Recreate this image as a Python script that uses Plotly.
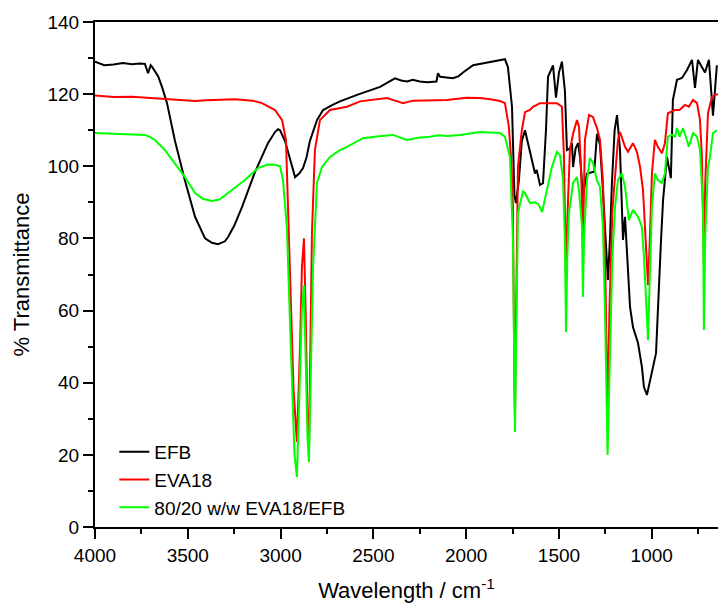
import plotly.graph_objects as go

# ---- data (wavenumber in cm-1, % transmittance) ----
efb_x = [4000, 3950, 3900, 3850, 3800, 3760, 3731, 3714, 3700, 3693, 3660, 3639, 3612, 3569, 3515, 3461, 3407, 3370, 3337, 3300, 3283, 3250, 3208, 3138, 3068, 3030, 3014, 3003, 2976, 2950, 2922, 2900, 2879, 2860, 2842, 2804, 2771, 2720, 2680, 2588, 2464, 2384, 2350, 2319, 2287, 2250, 2211, 2160, 2152, 2140, 2100, 2071, 2040, 2017, 1963, 1926, 1870, 1818, 1791, 1775, 1753, 1740, 1732, 1716, 1700, 1683, 1670, 1656, 1629, 1620, 1602, 1586, 1570, 1559, 1532, 1516, 1500, 1484, 1468, 1457, 1440, 1430, 1424, 1410, 1397, 1385, 1371, 1360, 1349, 1333, 1310, 1295, 1279, 1265, 1250, 1236, 1225, 1215, 1200, 1187, 1171, 1155, 1144, 1128, 1117, 1101, 1074, 1053, 1042, 1026, 1010, 993, 977, 967, 950, 939, 918, 897, 886, 864, 837, 810, 783, 767, 751, 730, 713, 692, 670, 649]
efb_y = [129.0, 128.0, 128.2, 128.6, 128.3, 128.5, 128.4, 125.8, 128.0, 127.6, 125.0, 122.0, 117.5, 107.0, 96.0, 86.0, 80.0, 78.8, 78.4, 79.2, 80.4, 83.5, 88.7, 98.4, 106.4, 109.5, 110.3, 110.0, 107.0, 102.0, 97.0, 98.0, 99.5, 102.5, 107.0, 112.8, 115.6, 117.0, 118.0, 119.8, 122.0, 124.4, 123.8, 123.5, 124.0, 123.5, 123.3, 123.5, 125.8, 124.8, 124.6, 124.4, 125.0, 126.0, 128.0, 128.4, 129.0, 129.5, 129.7, 127.5, 116.5, 92.0, 89.8, 96.0, 107.0, 110.0, 107.0, 103.6, 98.0, 99.0, 94.8, 95.3, 110.0, 124.8, 128.0, 119.0, 126.0, 129.0, 121.0, 104.5, 105.0, 106.4, 99.8, 105.0, 106.4, 102.0, 91.6, 95.0, 98.0, 98.2, 98.5, 109.0, 106.0, 95.0, 80.0, 68.5, 80.0, 95.0, 110.0, 114.2, 104.5, 79.6, 86.0, 72.0, 61.0, 55.4, 51.0, 44.4, 38.8, 36.6, 40.8, 44.4, 48.2, 61.0, 79.6, 90.6, 102.6, 96.7, 118.4, 124.0, 124.5, 126.7, 129.5, 121.7, 129.5, 127.5, 126.0, 129.5, 114.0, 128.0]

eva_x = [4000, 3900, 3800, 3700, 3600, 3500, 3461, 3400, 3300, 3246, 3150, 3100, 3030, 2992, 2971, 2960, 2945, 2930, 2912, 2895, 2885, 2874, 2865, 2855, 2847, 2838, 2831, 2815, 2788, 2734, 2642, 2572, 2500, 2427, 2370, 2340, 2287, 2200, 2103, 2000, 1926, 1870, 1818, 1791, 1770, 1755, 1748, 1740, 1737, 1733, 1727, 1721, 1700, 1683, 1656, 1640, 1602, 1550, 1511, 1484, 1473, 1466, 1462, 1455, 1441, 1424, 1403, 1392, 1380, 1371, 1365, 1360, 1338, 1317, 1295, 1279, 1263, 1250, 1238, 1228, 1212, 1198, 1182, 1171, 1144, 1128, 1101, 1080, 1063, 1047, 1031, 1020, 1010, 999, 983, 967, 945, 929, 913, 875, 850, 821, 800, 778, 756, 740, 730, 724, 719, 712, 697, 676, 659, 643]
eva_y = [119.6, 119.2, 119.3, 119.0, 118.6, 118.3, 118.1, 118.3, 118.5, 118.6, 118.2, 117.5, 115.6, 112.8, 107.3, 88.7, 60.0, 38.0, 23.6, 50.0, 72.0, 80.0, 60.0, 30.0, 22.0, 50.0, 81.5, 104.5, 112.8, 115.6, 116.5, 118.0, 118.5, 118.9, 118.0, 117.5, 118.2, 118.3, 118.4, 119.0, 118.9, 118.6, 118.1, 117.5, 111.0, 100.0, 88.7, 40.0, 30.0, 50.0, 85.0, 99.8, 110.0, 115.0, 115.6, 116.5, 117.5, 117.6, 117.5, 116.5, 102.6, 80.0, 69.0, 85.0, 104.5, 109.0, 112.8, 111.0, 98.0, 77.6, 90.0, 107.3, 114.2, 113.7, 110.6, 107.3, 96.0, 70.0, 31.6, 60.0, 88.0, 98.0, 107.3, 109.5, 105.4, 104.0, 106.4, 104.0, 99.8, 93.4, 79.6, 67.0, 80.0, 98.0, 107.3, 105.4, 103.6, 106.4, 114.7, 115.6, 115.6, 117.0, 116.5, 118.4, 117.5, 112.8, 103.0, 90.0, 73.0, 95.0, 114.7, 119.2, 119.8, 120.0]

blend_x = [4000, 3900, 3800, 3731, 3700, 3677, 3623, 3569, 3515, 3461, 3420, 3370, 3330, 3283, 3240, 3192, 3122, 3070, 3030, 3003, 2987, 2966, 2945, 2925, 2912, 2900, 2885, 2874, 2865, 2855, 2847, 2838, 2825, 2804, 2777, 2734, 2680, 2642, 2556, 2470, 2394, 2319, 2250, 2195, 2150, 2100, 2033, 1926, 1860, 1818, 1791, 1764, 1748, 1741, 1737, 1732, 1726, 1721, 1694, 1683, 1656, 1629, 1610, 1591, 1565, 1538, 1511, 1494, 1478, 1468, 1462, 1455, 1446, 1424, 1403, 1392, 1376, 1371, 1365, 1349, 1333, 1317, 1295, 1279, 1263, 1250, 1238, 1228, 1212, 1198, 1182, 1161, 1144, 1123, 1101, 1074, 1053, 1042, 1030, 1020, 1010, 999, 983, 967, 945, 929, 913, 892, 875, 864, 850, 832, 815, 800, 778, 756, 740, 730, 724, 719, 712, 697, 686, 670, 649]
blend_y = [109.2, 109.0, 108.8, 108.7, 108.0, 107.3, 104.5, 100.9, 97.0, 92.6, 91.0, 90.4, 90.8, 92.6, 94.3, 96.2, 99.5, 100.5, 100.4, 100.0, 96.2, 83.0, 50.0, 20.0, 13.9, 35.0, 60.0, 67.0, 50.0, 25.0, 18.0, 40.0, 72.0, 95.4, 99.8, 102.6, 104.5, 105.4, 107.8, 108.3, 108.7, 107.3, 108.0, 108.2, 108.6, 108.4, 108.7, 109.5, 109.3, 109.2, 108.2, 102.6, 79.6, 45.0, 26.3, 45.0, 75.0, 87.0, 93.0, 92.6, 89.8, 90.0, 89.5, 87.3, 93.4, 99.8, 104.0, 103.1, 96.2, 79.6, 54.0, 75.0, 87.0, 95.4, 97.0, 93.4, 83.2, 63.8, 80.0, 96.2, 102.3, 101.0, 96.0, 94.3, 83.2, 55.0, 20.0, 45.0, 75.0, 88.7, 96.2, 98.0, 94.3, 85.1, 87.9, 86.0, 83.2, 74.9, 60.0, 51.8, 70.0, 88.7, 98.0, 96.2, 95.4, 98.0, 108.2, 108.7, 108.2, 110.6, 108.2, 110.6, 108.0, 105.4, 109.2, 108.2, 104.5, 95.0, 88.7, 54.6, 80.0, 100.0, 102.6, 109.2, 110.0]

series_names = ["EFB", "EVA18", "80/20 w/w EVA18/EFB"]
series_colors = ["#000000", "#ff0000", "#00ff00"]

x_ticks = [4000, 3500, 3000, 2500, 2000, 1500, 1000]
y_ticks = [0, 20, 40, 60, 80, 100, 120, 140]

FONT = "Liberation Sans, Arial, sans-serif"

fig = go.Figure()
for xs, ys, name, col in zip([efb_x, eva_x, blend_x], [efb_y, eva_y, blend_y], series_names, series_colors):
    fig.add_trace(go.Scatter(x=xs, y=ys, mode="lines", name=name,
                             line=dict(color=col, width=2)))

fig.update_layout(
    width=718, height=607,
    margin=dict(l=95, r=0, t=22, b=80),
    paper_bgcolor="white", plot_bgcolor="white",
    font=dict(family=FONT, color="#000000", size=19),
    showlegend=True,
    legend=dict(x=0.031, y=0.0, xanchor="left", yanchor="bottom",
                bgcolor="rgba(0,0,0,0)", font=dict(size=19, family=FONT),
                tracegroupgap=0),
)
fig.update_xaxes(
    range=[4000, 643], tickvals=x_ticks, ticktext=[str(v) for v in x_ticks],
    showgrid=False, zeroline=False, showline=True, linecolor="#000000", linewidth=2,
    mirror=True, ticks="outside", ticklen=10, tickwidth=1.5, tickcolor="#000000",
    minor=dict(dtick=250, tick0=0, ticks="outside", ticklen=5, tickwidth=1.5, tickcolor="#000000"),
    tickfont=dict(size=19, family=FONT),
    title=dict(text="Wavelength / cm<sup>-1</sup>", font=dict(size=22, family=FONT), standoff=18),
)
fig.update_yaxes(
    range=[0, 140], tickvals=y_ticks, ticktext=[str(v) for v in y_ticks],
    showgrid=False, zeroline=False, showline=True, linecolor="#000000", linewidth=2,
    ticks="outside", ticklen=10, tickwidth=1.5, tickcolor="#000000",
    minor=dict(dtick=10, tick0=0, ticks="outside", ticklen=5, tickwidth=1.5, tickcolor="#000000"),
    tickfont=dict(size=19, family=FONT),
    title=dict(text="% Transmittance", font=dict(size=22, family=FONT), standoff=12),
)

fig.write_html("out.html")
